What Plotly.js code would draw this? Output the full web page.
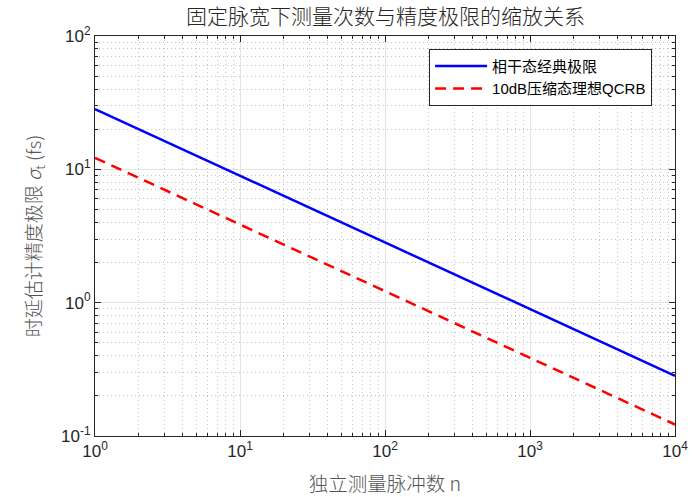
<!DOCTYPE html>
<html>
<head>
<meta charset="utf-8">
<script src="https://cdn.plot.ly/plotly-3.0.1.min.js"></script>
<style>
  html, body { margin: 0; padding: 0; background: #fff; }
  #chart { width: 692px; height: 497px; }
</style>
</head>
<body>
<div id="chart"></div>
<script>
// pulse counts and the two precision limits (fs)
const pulseCounts = [1, 10, 100, 1000, 10000];
const coherentLimit = [28.3, 8.95, 2.83, 0.895, 0.283];
const squeezedQCRB = [12.2, 3.86, 1.22, 0.386, 0.122];

const xTickVals = [1, 10, 100, 1000, 10000];
const xTickText = ['10<sup>0</sup>', '10<sup>1</sup>', '10<sup>2</sup>', '10<sup>3</sup>', '10<sup>4</sup>'];
const yTickVals = [0.1, 1, 10, 100];
const yTickText = ['10<sup>-1</sup>', '10<sup>0</sup>', '10<sup>1</sup>', '10<sup>2</sup>'];

const seriesNames = ['相干态经典极限', '10dB压缩态理想QCRB'];

// minor 2..9 positions for each decade
function minorVals(lo, hi) {
    const out = [];
    for (let e = lo; e < hi; e++) {
        for (let m = 2; m <= 9; m++) out.push(m * Math.pow(10, e));
    }
    return out;
}

const fontFamily = '"Noto Sans CJK SC", "Liberation Sans", sans-serif';
const mixedFamily = '"Liberation Sans", "Noto Sans CJK SC", sans-serif';
const textColor = '#262626';

function axisStyle(range, tickvals, ticktext, minor) {
    return {
        type: 'log',
        range: range,
        tickmode: 'array',
        tickvals: tickvals,
        ticktext: ticktext,
        ticks: 'inside',
        ticklen: 6,
        tickcolor: textColor,
        tickfont: { family: '"Liberation Sans", Arial, sans-serif', size: 17, color: textColor },
        showline: true,
        linecolor: textColor,
        linewidth: 1,
        mirror: 'allticks',
        showgrid: true,
        gridcolor: '#e3e3e3',
        gridwidth: 1,
        zeroline: false,
        minor: {
            tickmode: 'array',
            tickvals: minor,
            ticks: 'inside',
            ticklen: 3,
            tickcolor: textColor,
            showgrid: true,
            gridcolor: '#c4c4c4',
            griddash: '1px,3px',
            gridwidth: 1
        }
    };
}

const xaxis = axisStyle([0, 4], xTickVals, xTickText, minorVals(0, 4));
xaxis.title = { text: '独立测量脉冲数 n', font: { family: fontFamily, size: 19.5, color: '#555555', weight: 300 }, standoff: 16 };

const yaxis = axisStyle([-1, 2], yTickVals, yTickText, minorVals(-1, 2));
yaxis.title = { text: '时延估计精度极限 <i>σ</i><sub>t</sub> (fs)', font: { family: fontFamily, size: 19, color: '#555555', weight: 300 }, standoff: 14 };

Plotly.newPlot('chart', [{
    x: pulseCounts,
    y: coherentLimit,
    mode: 'lines',
    type: 'scatter',
    name: seriesNames[0],
    line: { color: '#0000ff', width: 2.5 }
}, {
    x: pulseCounts,
    y: squeezedQCRB,
    mode: 'lines',
    type: 'scatter',
    name: seriesNames[1],
    line: { color: '#ff0000', width: 2.5, dash: '11px,7px' }
}], {
    width: 692,
    height: 497,
    margin: { l: 95, r: 17, t: 36, b: 61 },
    paper_bgcolor: '#ffffff',
    plot_bgcolor: '#ffffff',
    title: {
        text: '固定脉宽下测量次数与精度极限的缩放关系',
        font: { family: fontFamily, size: 21, color: textColor, weight: 300 },
        x: 0.557, xanchor: 'center', y: 0.966, yanchor: 'middle'
    },
    xaxis: xaxis,
    yaxis: yaxis,
    showlegend: true,
    legend: {
        x: 0.576, y: 0.968, xanchor: 'left', yanchor: 'top',
        bgcolor: '#ffffff',
        bordercolor: '#262626',
        borderwidth: 1,
        font: { family: mixedFamily, size: 15, color: '#000000' },
        itemwidth: 52,
        tracegroupgap: 0
    }
}, { displayModeBar: false, staticPlot: true });
</script>
</body>
</html>
